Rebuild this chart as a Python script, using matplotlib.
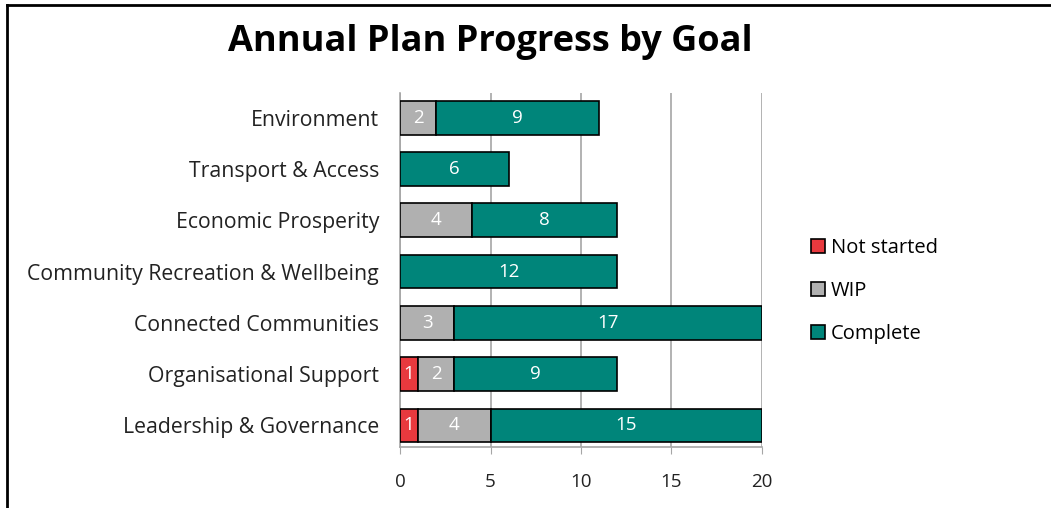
import matplotlib.pyplot as plt
from matplotlib.lines import Line2D

goals = ["Environment", "Transport & Access", "Economic Prosperity",
         "Community Recreation & Wellbeing", "Connected Communities",
         "Organisational Support", "Leadership & Governance"]
not_started = [0, 0, 0, 0, 0, 1, 1]
wip = [2, 0, 4, 0, 3, 2, 4]
complete = [9, 6, 8, 12, 17, 9, 15]

series = [("Not started", not_started, "#E8393E"),
          ("WIP", wip, "#B0B0B0"),
          ("Complete", complete, "#00857A")]

plt.rcParams['font.family'] = ['Open Sans', 'DejaVu Sans']

fig = plt.figure(figsize=(10.51, 5.08), dpi=100)
ax = fig.add_axes([400 / 1051, 1 - 447 / 508, 362 / 1051, 354 / 508])

y = list(range(len(goals)))
left = [0] * len(goals)
for name, vals, col in series:
    bars = ax.barh(y, vals, left=left, height=0.66, color=col,
                   edgecolor="black", linewidth=1.2, label=name, zorder=3)
    for b, v in zip(bars, vals):
        if v > 0:
            ax.text(b.get_x() + b.get_width() / 2, b.get_y() + b.get_height() / 2,
                    str(v), ha="center", va="center", color="white",
                    fontsize=13.5, zorder=4)
    left = [l + v for l, v in zip(left, vals)]

ax.set_xlim(0, 20)
ax.set_ylim(6.42, -0.48)
ax.set_xticks([0, 5, 10, 15, 20])
ax.set_yticks(y)
ax.set_yticklabels(goals)
ax.tick_params(axis="y", length=0, pad=15, labelsize=15.3, colors="#222222")
ax.tick_params(axis="x", length=5, color="#A6A6A6", pad=14, labelsize=13.5,
               labelcolor="#222222")
ax.xaxis.grid(True, color="#A6A6A6", linewidth=1.2, zorder=0)
for s in ["top", "right"]:
    ax.spines[s].set_visible(False)
for s in ["left", "bottom"]:
    ax.spines[s].set_color("#A6A6A6")
    ax.spines[s].set_linewidth(1.2)

leg = ax.legend(loc="upper left", bbox_to_anchor=(803 / 1051, 1 - 230 / 508),
                bbox_transform=fig.transFigure, frameon=False, fontsize=14.5,
                handlelength=0.7, handleheight=0.7, handletextpad=0.3,
                labelspacing=1.15, borderaxespad=0)
for h in leg.legend_handles:
    h.set_linewidth(1.2)

fig.text(490 / 1051, 1 - 42 / 508, "Annual Plan Progress by Goal", ha="center",
         va="center", fontsize=26, fontweight="bold")

# outer frame: only top and left edges visible
fig.add_artist(Line2D([7 / 1051, 1], [1 - 5 / 508, 1 - 5 / 508],
                      color="black", linewidth=2, transform=fig.transFigure))
fig.add_artist(Line2D([7 / 1051, 7 / 1051], [0, 1 - 5 / 508],
                      color="black", linewidth=2, transform=fig.transFigure))

fig.savefig("out.png", dpi=100)
